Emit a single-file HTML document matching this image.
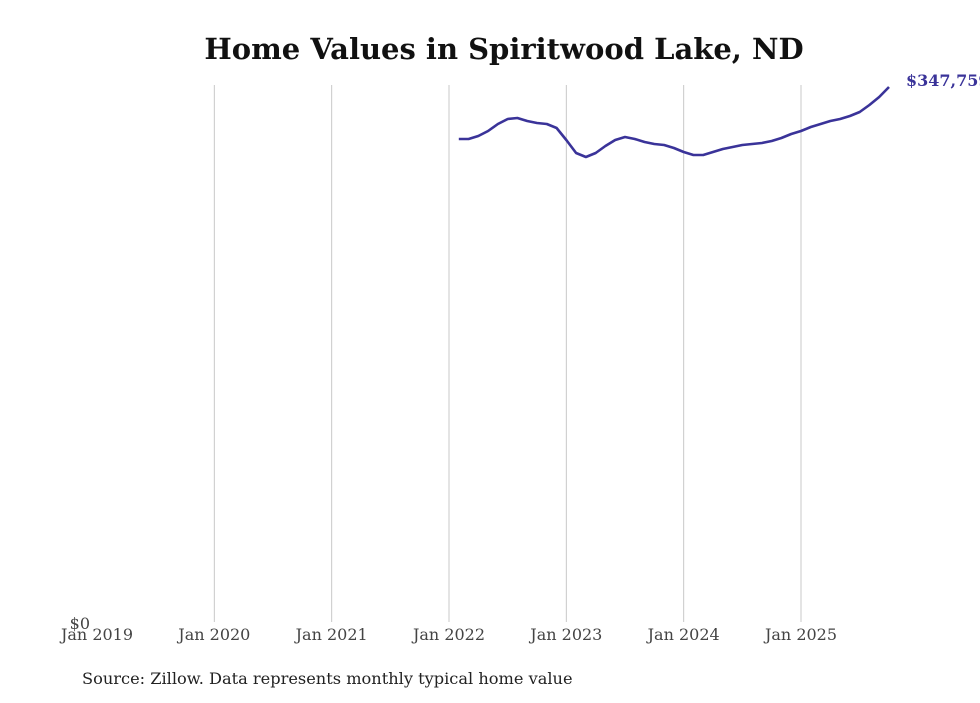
<!DOCTYPE html>
<html><head><meta charset="utf-8"><style>
body{margin:0;background:#fff;width:980px;height:699px;overflow:hidden;font-family:"DejaVu Serif","Liberation Serif",serif}
</style></head><body>
<svg id="c" width="980" height="699">
<text x="504" y="59" text-anchor="middle" font-size="29" font-weight="bold" fill="#111">Home Values in Spiritwood Lake, ND</text>
<g id="grid"></g><g id="xt"></g>
<text x="90" y="629" text-anchor="end" font-size="16" fill="#444">$0</text>
<path id="line" fill="none" stroke="#3a3399" stroke-width="2.6" stroke-linejoin="round"/>
<text id="endlbl" font-size="16" font-weight="bold" fill="#3a3399"></text>
<text x="82" y="684" font-size="16.2" fill="#222">Source: Zillow. Data represents monthly typical home value</text>
</svg>
<script>
const tickLabels=["Jan 2019","Jan 2020","Jan 2021","Jan 2022","Jan 2023","Jan 2024","Jan 2025"];
const startMonth=37; // Feb 2022, months since Jan 2019
const values=[314086,314086,316029,319267,323800,327038,327686,325743,324448,323800,321210,313438,305020,302429,305020,309553,313438,315381,314086,312143,310848,310200,308258,305667,303724,303724,305667,307610,308905,310200,310848,311496,312791,314734,317324,319267,321857,323800,325743,327038,328981,331571,336104,341285,347759];
const x=m=>97+m*(704/72);
const y=v=>624-v*(537/347759);
const ns="http://www.w3.org/2000/svg";
const g=document.getElementById('grid'),xt=document.getElementById('xt');
tickLabels.forEach((t,i)=>{
 if(i>0){const l=document.createElementNS(ns,'line');
 l.setAttribute('x1',x(i*12));l.setAttribute('x2',x(i*12));l.setAttribute('y1',85);l.setAttribute('y2',622);
 l.setAttribute('stroke','#c8c8c8');l.setAttribute('stroke-width','1');
 
 
 g.appendChild(l);}
 const tx=document.createElementNS(ns,'text');
 tx.setAttribute('x',x(i*12));tx.setAttribute('y',640);tx.setAttribute('text-anchor','middle');
 tx.setAttribute('font-size','16');tx.setAttribute('fill','#444');tx.textContent=t;
 
 
 xt.appendChild(tx);
});
document.getElementById('line').setAttribute('d',values.map((v,i)=>(i?'L':'M')+x(startMonth+i).toFixed(1)+','+y(v).toFixed(1)).join(''));
const last=values.length-1,el=document.getElementById('endlbl');
el.setAttribute('x',x(startMonth+last)+17);el.setAttribute('y',y(values[last])-1);
el.textContent='$'+values[last].toLocaleString('en-US');
</script>
</body></html>
